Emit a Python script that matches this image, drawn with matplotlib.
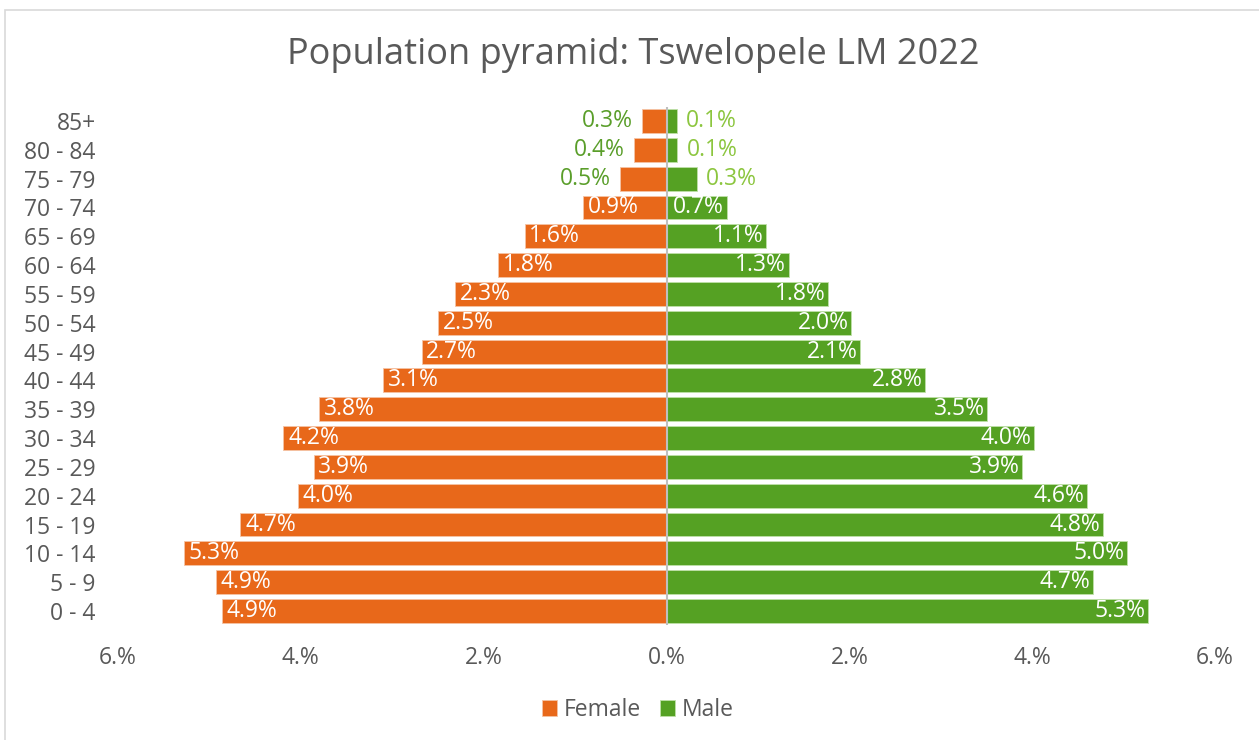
import matplotlib
matplotlib.use("Agg")
import matplotlib.pyplot as plt
from matplotlib.patches import Rectangle

ages = ["0 - 4", "5 - 9", "10 - 14", "15 - 19", "20 - 24", "25 - 29", "30 - 34",
        "35 - 39", "40 - 44", "45 - 49", "50 - 54", "55 - 59", "60 - 64",
        "65 - 69", "70 - 74", "75 - 79", "80 - 84", "85+"]
female = [4.86, 4.93, 5.28, 4.66, 4.03, 3.86, 4.19, 3.80, 3.10, 2.68, 2.50,
          2.31, 1.84, 1.55, 0.91, 0.51, 0.36, 0.27]
male = [5.27, 4.66, 5.04, 4.77, 4.60, 3.89, 4.02, 3.51, 2.83, 2.12, 2.02,
        1.77, 1.34, 1.09, 0.66, 0.33, 0.12, 0.11]
xticks = [-6, -4, -2, 0, 2, 4, 6]
xticklabels = ["6.%", "4.%", "2.%", "0.%", "2.%", "4.%", "6.%"]

ORANGE = "#E8681A"
GREEN = "#55A123"
TXT = "#595959"

plt.rcParams['font.family'] = ['Open Sans', 'DejaVu Sans']

fig = plt.figure(figsize=(12.59, 7.40), dpi=100)
fig.patches.append(Rectangle((5/1259, -0.01), 1.02, 1 - 10/740 + 0.01,
                             transform=fig.transFigure, fill=False,
                             edgecolor="#d9d9d9", linewidth=1.2))
ax = fig.add_axes([118/1259, 1 - 625.4/740, (1215 - 118)/1259, (625.4 - 106.6)/740])

y = list(range(len(ages)))
ax.barh(y, [-v for v in female], height=0.83, color=ORANGE, edgecolor="#f5c3a5",
        linewidth=0.6, label="Female")
ax.barh(y, male, height=0.83, color=GREEN, edgecolor="#bfe0a8",
        linewidth=0.6, label="Male")

fs = 16.5
for i, (f, m) in enumerate(zip(female, male)):
    lf = f"{f:.1f}%"
    lm = f"{m:.1f}%"
    if f >= 0.8:
        ax.text(-f + 0.05, i, lf, ha="left", va="center", color="white", fontsize=fs)
    else:
        ax.text(-f - 0.1, i, lf, ha="right", va="center", color="#5A9E2A", fontsize=fs)
    if m >= 0.6:
        ax.text(m - 0.03, i, lm, ha="right", va="center", color="white", fontsize=fs)
    else:
        ax.text(m + 0.1, i, lm, ha="left", va="center", color="#8CC63F", fontsize=fs)

ax.set_xlim(-6, 6)
ax.set_ylim(-0.5, len(ages) - 0.5)
ax.set_xticks(xticks)
ax.set_xticklabels(xticklabels, fontsize=16.5, color=TXT)
ax.set_yticks(y)
ax.set_yticklabels(ages, fontsize=16.5, color=TXT)
ax.tick_params(length=0, pad=16, axis="y")
ax.tick_params(length=0, pad=15, axis="x")
for s in ax.spines.values():
    s.set_visible(False)
ax.axvline(0, color="#bfbfbf", linewidth=1.5)

fig.text(633/1259, 1 - 55/740, "Population pyramid: Tswelopele LM 2022",
         ha="center", va="center", fontsize=26, color=TXT)

leg = fig.legend(loc="center", bbox_to_anchor=(638/1259, 1 - 710/740), ncol=2,
                 frameon=False, fontsize=16.5, handlelength=0.65, handleheight=0.65,
                 handletextpad=0.3, columnspacing=0.8)
for t in leg.get_texts():
    t.set_color(TXT)

fig.savefig("out.png", dpi=100)
